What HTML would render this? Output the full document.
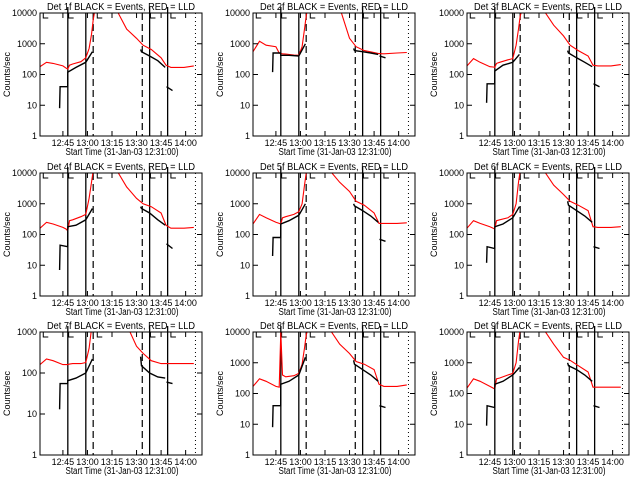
<!DOCTYPE html>
<html><head><meta charset="utf-8"><style>
html,body{margin:0;padding:0;background:#fff;}
svg{display:block;font-family:"Liberation Sans",sans-serif;}
</style></head><body>
<svg id="chart" width="640" height="480" viewBox="0 0 640 480"></svg>
<script>
const detectorNames = ["1f","2f","3f","4f","5f","6f","7f","8f","9f"];
const xTickLabels = ["12:45","13:00","13:15","13:30","13:45","14:00"];
const xTickMinutes = [14,29,44,59,74,89];
const redTimes = [0,4,8,14,16,17,18,20,25,28,30,31.5,32.5,33.5,47,53,59,63,68,74,77,80,88,94];
const blackTimes = [12,12.3,16.9,17,22,28,32,33,61.5,62,67,72,76.5,77,77.3,81];
const red1 = [180,250,230,190,160,150,200,220,260,350,700,2000,6000,12000,12000,3000,1500,900,650,350,200,170,170,190];
const red2 = [550,1200,900,800,500,480,470,460,430,420,800,3000,8000,15000,15000,15000,1500,800,600,520,480,470,500,520];
const red3 = [190,330,250,180,175,170,230,250,300,330,900,3000,8000,12000,12000,4000,1800,900,600,400,200,190,190,210];
const red4 = [160,250,220,170,150,130,280,300,380,450,1500,5000,12000,12000,12000,3500,1500,1000,800,500,200,160,160,170];
const red5 = [220,450,350,250,230,220,350,380,450,550,1000,4000,10000,12000,12000,5000,2500,1200,900,500,230,230,230,240];
const red6 = [160,280,230,180,160,150,280,300,350,450,1000,5000,12000,12000,12000,4000,2000,1200,900,600,180,170,170,180];
const red7 = [160,220,200,160,160,160,165,170,170,180,400,1200,1500,1500,1500,1500,450,300,200,170,170,170,170,170];
const red8 = [170,300,250,170,160,10000,400,350,380,450,900,3000,8000,12000,12000,4000,2000,1100,900,600,200,170,170,190];
const red9 = [150,300,250,170,150,140,300,320,400,450,1000,5000,12000,12000,12000,4000,1500,1200,800,500,160,160,160,160];
const black1 = [8,40,40,120,170,250,550,null,650,550,400,280,170,null,40,30];
const black2 = [120,500,500,420,420,400,1000,null,700,600,550,500,450,null,400,350];
const black3 = [12,50,50,130,200,250,450,null,600,500,350,250,180,null,50,40];
const black4 = [7,45,40,180,200,300,700,null,800,700,500,300,200,null,50,35];
const black5 = [20,80,80,220,280,420,1000,null,1000,850,600,400,250,null,70,60];
const black6 = [12,40,35,180,220,350,800,null,1200,900,600,400,250,null,40,35];
const black7 = [13,55,55,65,75,100,220,null,250,150,100,80,75,null,60,55];
const black8 = [8,40,40,200,250,400,1500,null,1200,900,600,400,250,null,40,35];
const black9 = [9,40,35,200,250,400,700,null,1000,800,600,400,250,null,40,35];
const yMaxDecades = [4,4,4,4,4,4,3,4,4];
const solidLineMinutes = [17,28,67,78];
const dashedLineMinutes = [32.5,62.5];
const dottedLineMinutes = [95];

const reds=[red1,red2,red3,red4,red5,red6,red7,red8,red9];
const blacks=[black1,black2,black3,black4,black5,black6,black7,black8,black9];
const NS="http://www.w3.org/2000/svg";
const svg=document.getElementById('chart');
function mk(tag,attrs,parent){const e=document.createElementNS(NS,tag);for(const k in attrs)e.setAttribute(k,attrs[k]);(parent||svg).appendChild(e);return e;}
const colL=[40,253,467], rowT=[13,173,332], W=162, H=123, XMAX=99;

for(let i=0;i<9;i++){
  const L=colL[i%3], T=rowT[Math.floor(i/3)], R=L+W, B=T+H, dec=yMaxDecades[i];
  const xs=m=>L+m/XMAX*W;
  const ys=v=>B-Math.log10(v)/dec*H;
  const g=mk('g',{});
  
  
  const cp=mk('clipPath',{id:'cp'+i},g);
  mk('rect',{x:L,y:T,width:W,height:H},cp);
  const t=mk('text',{x:L+W/2,y:T-3,'text-anchor':'middle','font-size':10,textLength:148,lengthAdjust:'spacingAndGlyphs'},g);
  t.textContent='Det '+detectorNames[i]+' BLACK = Events, RED = LLD';
  
  
  solidLineMinutes.forEach((m,k)=>{const ln=mk('line',{x1:xs(m),x2:xs(m),y1:(k==1?T:T-6),y2:B,stroke:'#000','stroke-width':1.3},g);
    });
  dashedLineMinutes.forEach(m=>{const ln=mk('line',{x1:xs(m),x2:xs(m),y1:T,y2:B,stroke:'#000','stroke-width':1.2,'stroke-dasharray':'7,4'},g);
    });
  dottedLineMinutes.forEach(m=>{const ln=mk('line',{x1:xs(m),x2:xs(m),y1:T,y2:B,stroke:'#000','stroke-width':1,'stroke-dasharray':'1,3'},g);
    });
  [2,17.5,35,67.5,80].forEach(m=>{mk('path',{d:`M${xs(m)} ${T} v5 h5`,stroke:'#000',fill:'none','stroke-width':1},g);});
  let d='';redTimes.forEach((m,k)=>{const v=reds[i][k];if(v==null)return;d+=(d?'L':'M')+xs(m).toFixed(1)+' '+ys(v).toFixed(1);});
  const rp=mk('path',{d:d,stroke:'#ff0000',fill:'none','stroke-width':1.1,'clip-path':`url(#cp${i})`},g);
  
  let db='',pen=false;blackTimes.forEach((m,k)=>{const v=blacks[i][k];if(v==null){pen=false;return;}db+=(pen?'L':'M')+xs(m).toFixed(1)+' '+ys(v).toFixed(1);pen=true;});
  const bp=mk('path',{d:db,stroke:'#000',fill:'none','stroke-width':1.4,'clip-path':`url(#cp${i})`},g);
  
  const fr=mk('rect',{x:L,y:T,width:W,height:H,fill:'none',stroke:'#000','stroke-width':1},g);
  
  for(let k=0;k<=dec;k++){const y=B-k/dec*H;
    mk('line',{x1:L,x2:L+5,y1:y,y2:y,stroke:'#000'},g);mk('line',{x1:R-5,x2:R,y1:y,y2:y,stroke:'#000'},g);
    const lt=mk('text',{x:L-3,y:y+3,'text-anchor':'end','font-size':9},g);lt.textContent=String(Math.pow(10,k));
    }
  xTickMinutes.forEach((m,k)=>{const x=xs(m);mk('line',{x1:x,x2:x,y1:B,y2:B-5,stroke:'#000'},g);mk('line',{x1:x,x2:x,y1:T,y2:T+5,stroke:'#000'},g);
    const xt=mk('text',{x:x,y:B+10,'text-anchor':'middle','font-size':9},g);xt.textContent=xTickLabels[k];
    });
  const xl=mk('text',{x:L+W/2+1,y:B+19,'text-anchor':'middle','font-size':10,textLength:113,lengthAdjust:'spacingAndGlyphs'},g);
  xl.textContent='Start Time (31-Jan-03 12:31:00)';
  
  const yl=mk('text',{x:0,y:0,'text-anchor':'middle','font-size':9,transform:`translate(${L-30},${T+H/2}) rotate(-90)`},g);
  yl.textContent='Counts/sec';
  
}
</script>
</body></html>
